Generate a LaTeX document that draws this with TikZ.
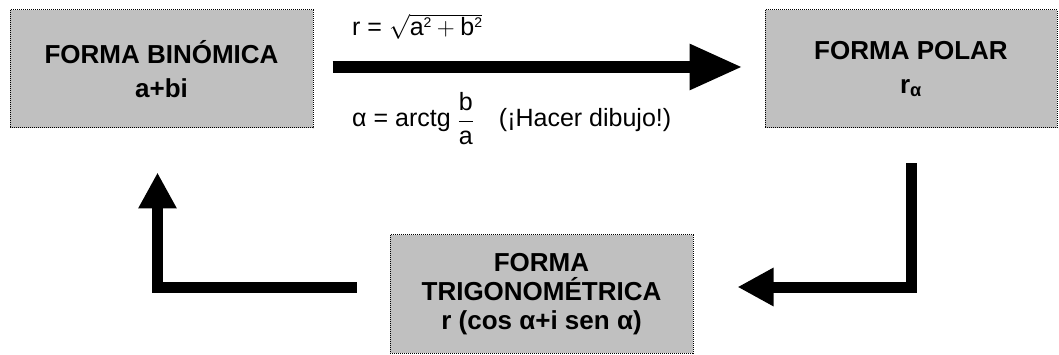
\documentclass[tikz,border=0pt]{standalone}
\usepackage{fontspec}
\setmainfont{Liberation Sans}
\usetikzlibrary{arrows.meta}
\definecolor{boxgray}{RGB}{192,192,192}
\newcommand{\supsq}{\mbox{\raisebox{8pt}[0pt][0pt]{\fontsize{14}{14}\selectfont 2}}}

\begin{document}
\begin{tikzpicture}[x=1pt,y=-1pt,
  formbox/.style={draw=black, fill=boxgray, line width=1pt, dash pattern=on 1pt off 1pt,
    minimum width=303pt, minimum height=118pt, inner sep=0pt, align=center,
    font=\bfseries\fontsize{26}{34}\selectfont},
  bigarrow/.style={line width=12pt, -{Triangle[length=53pt,width=43pt]}},
  turnarrow/.style={line width=11pt, line join=miter, -{Triangle[length=36pt,width=36pt]}},
  formula/.style={inner sep=0pt, font=\fontsize{25}{30}\selectfont}]
\useasboundingbox (0,0) rectangle (1059,355);

\node[formbox] (bin) at (161.5,69) {FORMA BINÓMICA\\a+bi};
\node[formbox, minimum width=292pt] (pol) at (911,69) {FORMA POLAR\\r\textsubscript{α}};
\node[formbox, font=\bfseries\fontsize{26}{29}\selectfont] (tri) at (541.5,294) {FORMA\\TRIGONOMÉTRICA\\r (cos α+i sen α)};

\draw[bigarrow] ([xshift=19pt,yshift=2pt]bin.east) -- ([xshift=-22pt,yshift=2pt]pol.west);
\node[formula, anchor=base west] (rlab) at (352,36) {r = \smash{$\sqrt{\mbox{a}\supsq+\mbox{b}\supsq}$}};
\node[formula, anchor=base west] (alab) at (352,127) {α = arctg $\displaystyle\frac{\mbox{b}}{\mbox{a}}$\quad (¡Hacer dibujo!)};

\draw[turnarrow] ([yshift=-35pt]pol.south) |- ([xshift=44pt,yshift=7pt]tri.east);
\draw[turnarrow] ([xshift=-33pt,yshift=7pt]tri.west) -| ([xshift=-4pt,yshift=-44pt]bin.south);

\end{tikzpicture}
\end{document}
